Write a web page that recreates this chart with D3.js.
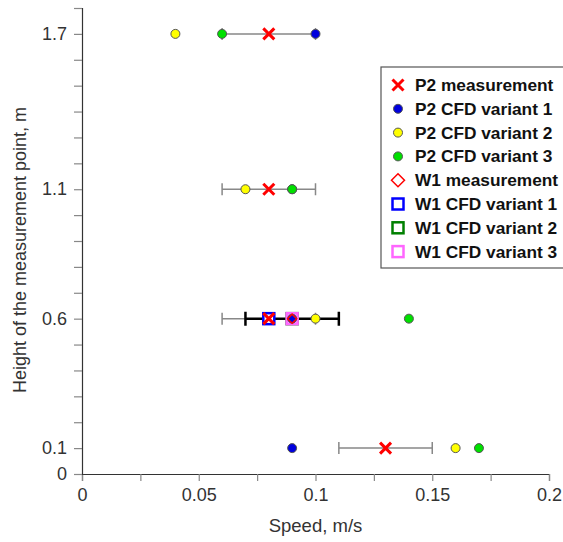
<!DOCTYPE html>
<html>
<head>
<meta charset="utf-8">
<script src="https://cdn.jsdelivr.net/npm/d3@7"></script>
<style>
  body { margin: 0; background: #fff; }
  svg { display: block; font-family: "Liberation Sans", Arial, sans-serif; }
</style>
</head>
<body>
<div id="chart"></div>
<script>
// heights of the measurement points, m
const heights = [1.7, 1.1, 0.6, 0.1]

// speeds, m/s (one value per height)
const p2Measurement = [0.08, 0.08, 0.08, 0.13]
const p2Error = [0.02, 0.02, 0.02, 0.02]
const p2Cfd1 = [0.10, 0.09, 0.09, 0.09]
const p2Cfd2 = [0.04, 0.07, 0.10, 0.16]
const p2Cfd3 = [0.06, 0.09, 0.14, 0.17]

const w1Heights = [0.6]
const w1Measurement = [0.09]
const w1Error = [0.02]
const w1Cfd1 = [0.08]
const w1Cfd2 = [0.09]
const w1Cfd3 = [0.09]

const xTicks = d3.range(0, 0.2001, 0.025)
const yTicks = d3.range(0, 1.8001, 0.1)
const yLabels = [0, 0.1, 0.6, 1.1, 1.7]

const legendItems = [
  { label: "P2 measurement", kind: "x", color: "#ff0000" },
  { label: "P2 CFD variant 1", kind: "dot", color: "#0000dd" },
  { label: "P2 CFD variant 2", kind: "dot", color: "#ffff00" },
  { label: "P2 CFD variant 3", kind: "dot", color: "#00e000" },
  { label: "W1 measurement", kind: "diamond", color: "#ff0000" },
  { label: "W1 CFD variant 1", kind: "square", color: "#0000ff" },
  { label: "W1 CFD variant 2", kind: "square", color: "#008000" },
  { label: "W1 CFD variant 3", kind: "square", color: "#ff66ff" }
]

const width = 563
const height = 542
const margin = { top: 8, right: 14, bottom: 68, left: 82 }
const innerW = width - margin.left - margin.right
const innerH = height - margin.top - margin.bottom

const svg = d3.select("#chart").append("svg")
  .attr("width", width).attr("height", height)

const g = svg.append("g").attr("transform", `translate(${margin.left},${margin.top})`)

const x = d3.scaleLinear().domain([0, 0.2]).range([0, innerW])
const y = d3.scaleLinear().domain([0, 1.8]).range([innerH, 0])

const fmt = v => String(Math.round(v * 1000) / 1000)

// Axes
g.append("g").attr("transform", `translate(0,${innerH})`)
  .call(d3.axisBottom(x).tickValues(xTicks).tickSizeOuter(0).tickSize(7).tickPadding(7)
    .tickFormat(v => Math.abs(Math.round(v * 1000) % 50) === 0 ? fmt(v) : ""))
  .call(a => a.select(".domain").attr("stroke", "#333").attr("stroke-width", 1.2))
  .call(a => a.selectAll(".tick line").attr("stroke", "#888").attr("stroke-width", 1.2))
  .call(a => a.selectAll(".tick text").attr("font-size", 18).attr("fill", "#333"))

g.append("g")
  .call(d3.axisLeft(y).tickValues(yTicks).tickSizeOuter(0).tickSize(8).tickPadding(7)
    .tickFormat(v => yLabels.some(l => Math.abs(l - v) < 1e-6) ? fmt(v) : ""))
  .call(a => a.select(".domain").attr("stroke", "#333").attr("stroke-width", 1.2))
  .call(a => a.selectAll(".tick line").attr("stroke", "#888").attr("stroke-width", 1.2))
  .call(a => a.selectAll(".tick text").attr("font-size", 18).attr("fill", "#333"))

// Axis titles
g.append("text").attr("x", innerW / 2).attr("y", innerH + 58)
  .attr("text-anchor", "middle").attr("font-size", 18.5).attr("fill", "#333")
  .text("Speed, m/s")
g.append("text").attr("transform", "rotate(-90)").attr("x", -(250 - margin.top)).attr("y", -56)
  .attr("text-anchor", "middle").attr("font-size", 18).attr("fill", "#333")
  .text("Height of the measurement point, m")

// Marker drawers
const drawX = (sel, cx, cy, color) => {
  const s = 5.5
  sel.append("path")
    .attr("d", `M${cx - s},${cy - s}L${cx + s},${cy + s}M${cx - s},${cy + s}L${cx + s},${cy - s}`)
    .attr("stroke", color).attr("stroke-width", 3).attr("fill", "none")
}
const drawDot = (sel, cx, cy, color) => {
  sel.append("circle").attr("cx", cx).attr("cy", cy).attr("r", 4.5)
    .attr("fill", color).attr("stroke", "#555").attr("stroke-width", 1)
}
const drawDiamond = (sel, cx, cy, color) => {
  const s = 6.5
  sel.append("path")
    .attr("d", `M${cx},${cy - s}L${cx + s},${cy}L${cx},${cy + s}L${cx - s},${cy}Z`)
    .attr("stroke", color).attr("stroke-width", 1.5).attr("fill", "none")
}
const drawSquare = (sel, cx, cy, color, fill) => {
  const s = 5.5
  sel.append("rect").attr("x", cx - s).attr("y", cy - s).attr("width", 2 * s).attr("height", 2 * s)
    .attr("stroke", color).attr("stroke-width", 2.5).attr("fill", fill || "none")
}
const drawers = { x: drawX, dot: drawDot, diamond: drawDiamond, square: drawSquare }

// Error bars
const errorBar = (cx, cy, err, color, w, cap) => {
  const x0 = x(cx - err), x1 = x(cx + err), yy = y(cy)
  g.append("path")
    .attr("d", `M${x0},${yy}H${x1}M${x0},${yy - cap}V${yy + cap}M${x1},${yy - cap}V${yy + cap}`)
    .attr("stroke", color).attr("stroke-width", w).attr("fill", "none")
}
heights.forEach((h, i) => errorBar(p2Measurement[i], h, p2Error[i], "#888", 1.5, 6))
w1Heights.forEach((h, i) => errorBar(w1Measurement[i], h, w1Error[i], "#000", 2.5, 7))

const marks = g.append("g")
// W1 squares underneath
w1Heights.forEach((h, i) => {
  drawSquare(marks, x(w1Cfd2[i]), y(h), "#008000", "#ff99ff")
  drawSquare(marks, x(w1Cfd3[i]), y(h), "#ff66ff", "#ff99ff")
  drawSquare(marks, x(w1Cfd1[i]), y(h), "#0000ff", "#ffffff")
})
// P2 points
heights.forEach((h, i) => {
  drawDot(marks, x(p2Cfd1[i]), y(h), "#0000dd")
  drawDot(marks, x(p2Cfd2[i]), y(h), "#ffff00")
  drawDot(marks, x(p2Cfd3[i]), y(h), "#00e000")
})
w1Heights.forEach((h, i) => {
  const cx = x(w1Measurement[i]), cy = y(h)
  marks.append("path")
    .attr("d", `M${cx},${cy - 4.5}L${cx + 4.5},${cy}L${cx},${cy + 4.5}L${cx - 4.5},${cy}Z`)
    .attr("stroke", "#ff0000").attr("stroke-width", 1.5).attr("fill", "none")
})
heights.forEach((h, i) => drawX(marks, x(p2Measurement[i]), y(h), "#ff0000"))

// Legend
const lg = svg.append("g").attr("transform", "translate(381,67)")
lg.append("rect").attr("width", 195).attr("height", 201)
  .attr("fill", "#fff").attr("stroke", "#555").attr("stroke-width", 1.2)
legendItems.forEach((d, i) => {
  const cy = 18 + i * 23.8
  drawers[d.kind](lg, 17, cy, d.color)
  lg.append("text").attr("x", 34).attr("y", cy + 6)
    .attr("font-size", 17.3).attr("font-weight", "bold").attr("fill", "#111")
    .text(d.label)
})
</script>
</body>
</html>
